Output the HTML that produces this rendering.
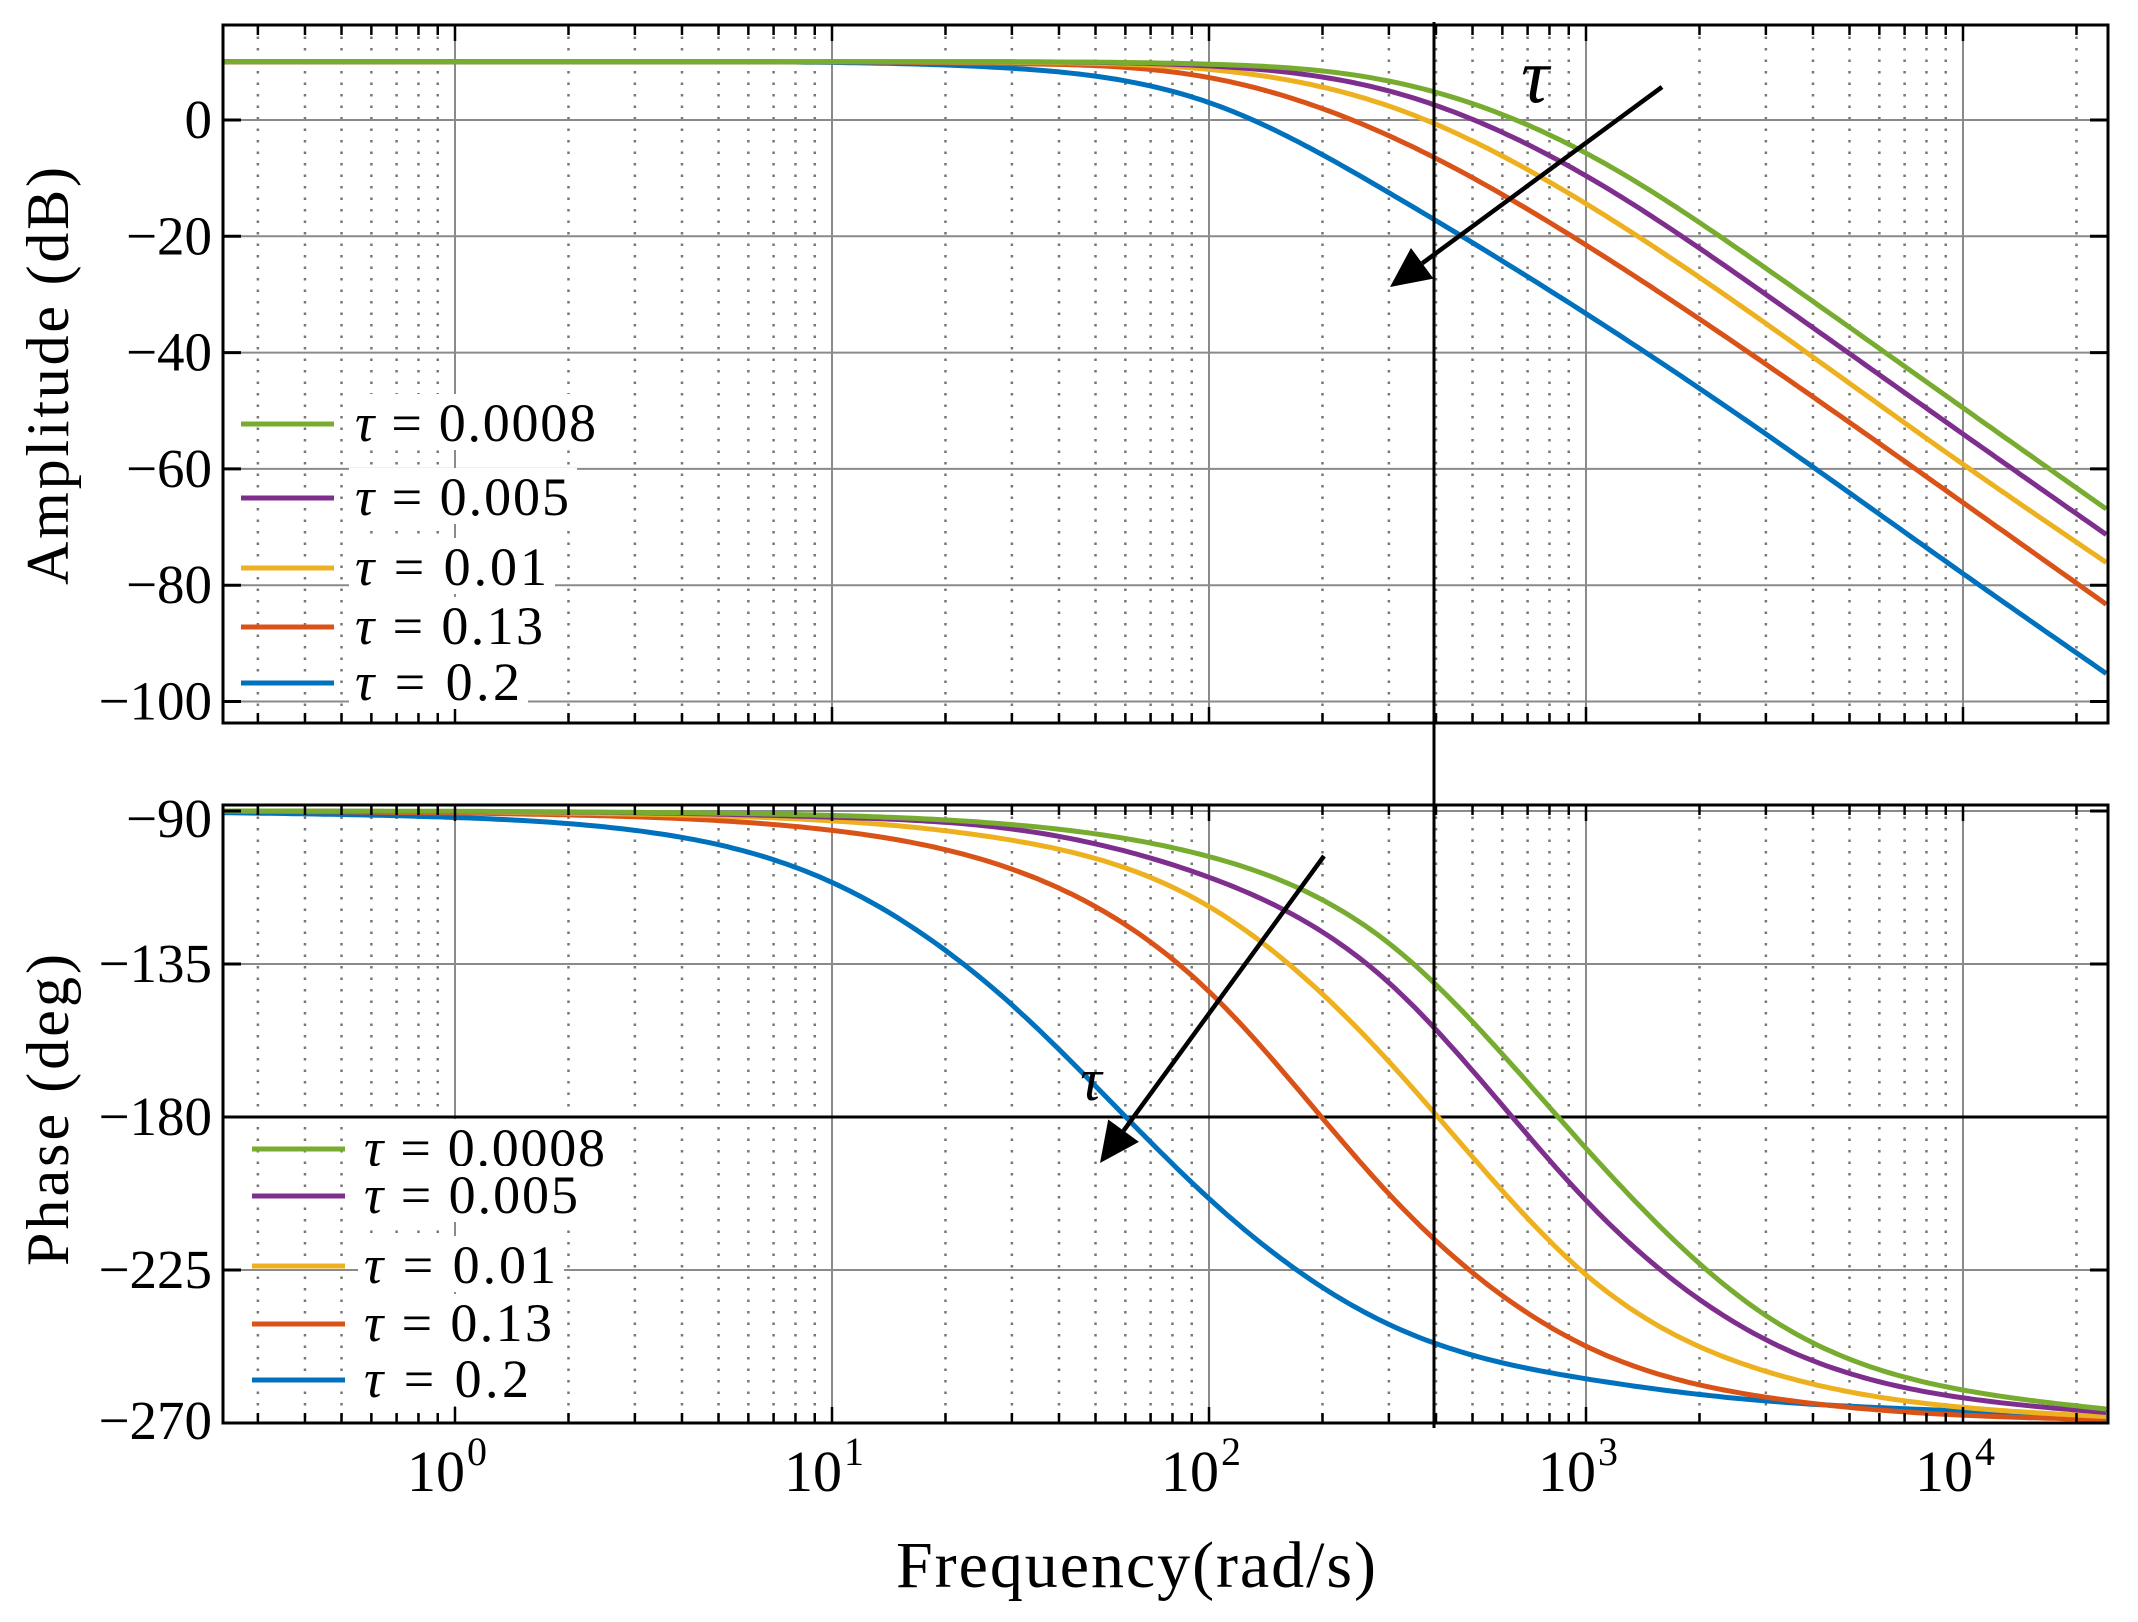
<!DOCTYPE html>
<html><head><meta charset="utf-8"><style>
html,body{margin:0;padding:0;background:#fff;}
svg{display:block;}
text{font-family:"Liberation Serif",serif;fill:#000;}
</style></head><body>
<svg id="chart" width="2138" height="1622" viewBox="0 0 2138 1622" xmlns="http://www.w3.org/2000/svg">
<g id="grid"></g><g id="series"></g><g id="frame"></g><g id="labels"></g><g id="legend"></g><g id="annot"></g>
</svg>
<script>
// ---- data ----
const seriesNames = ["τ = 0.0008","τ = 0.005","τ = 0.01","τ = 0.13","τ = 0.2"];
const seriesColors = ["#77AC30","#7E2F8E","#EDB120","#D95319","#0072BD"];
const ampFreq = [0.243,1,10,30,100,300,1000,3000,10000,24000];
const ampGreen  = [10,10,10,10,9.6,6.7,-5.7,-25.5,-49.5,-66.9];
const ampPurple = [10,10,10,10,9.3,5.0,-9.6,-30,-54,-71.3];
const ampYellow = [10,10,10,9.9,8.7,2.4,-14.4,-35,-59.2,-76.1];
const ampRed    = [10,10,10,9.7,7.3,-2.7,-21.5,-42,-65.8,-83.3];
const ampBlue   = [10,10,9.9,8.9,3.0,-12.5,-33.3,-54,-78,-95.2];
const phFreq = [0.243,1,3,10,30,100,300,1000,3000,10000,24000];
const phGreen  = [-90,-90.1,-90.4,-91.3,-94.0,-103.4,-128.9,-189.2,-238.4,-260.3,-265.9];
const phPurple = [-90,-90.2,-90.5,-91.8,-95.3,-109.5,-140.5,-204.5,-245.5,-262.6,-266.9];
const phYellow = [-90,-90.3,-90.9,-92.9,-98.6,-118.1,-163.7,-226.4,-254.8,-265.4,-268.1];
const phRed    = [-90,-90.6,-91.7,-95.7,-107.1,-143.1,-202.6,-247.4,-262.4,-267.7,-269.0];
const phBlue   = [-90.5,-91.9,-95.7,-111,-147,-204,-241,-257,-263.5,-266.5,-268.5];
const ampTicks = [0,-20,-40,-60,-80,-100];
const ampTickLabels = ["0","−20","−40","−60","−80","−100"];
const phTicks = [-90,-135,-180,-225,-270];
const phTickLabels = ["−90","−135","−180","−225","−270"];
const xDecades = [0,1,2,3,4];

const ampSeries=[ampGreen,ampPurple,ampYellow,ampRed,ampBlue];
const phSeries=[phGreen,phPurple,phYellow,phRed,phBlue];
const NS="http://www.w3.org/2000/svg";
const XL=223, XR=2108, D0=455, DEC=377;
const xMin=Math.pow(10,(XL-D0)/DEC), xMax=Math.pow(10,(XR-D0)/DEC);
function xs(f){return D0+Math.log10(f)*DEC;}
const A={top:25,bot:723}; function ya(v){return 120-v*5.815;}
const P={top:805,bot:1423}; function yp(v){return 811+(-90-v)*153/45;}
function el(tag,attrs,parent){const e=document.createElementNS(NS,tag);for(const k in attrs)e.setAttribute(k,attrs[k]);parent.appendChild(e);return e;}
const G=document.getElementById('grid'),S=document.getElementById('series'),F=document.getElementById('frame'),L=document.getElementById('labels'),LG=document.getElementById('legend'),AN=document.getElementById('annot');

// grid
[A,P].forEach((ax,pi)=>{
  for(let d=-1;d<=4;d++){for(let m=1;m<10;m++){const f=m*Math.pow(10,d);if(f<xMin||f>xMax)continue;const x=xs(f);
    if(m===1){const g=el('line',{x1:x,x2:x,y1:ax.top,y2:ax.bot,stroke:'#8a8a8a','stroke-width':2},G);
      }
    else{const g=el('line',{x1:x,x2:x,y1:ax.top,y2:ax.bot,stroke:'#777','stroke-width':2.5,'stroke-dasharray':'2.5 9'},G);
      }
    const tl=m===1?16:10;
    el('line',{x1:x,x2:x,y1:ax.bot,y2:ax.bot-tl,stroke:'#000','stroke-width':2.5},F);
    el('line',{x1:x,x2:x,y1:ax.top,y2:ax.top+tl,stroke:'#000','stroke-width':2.5},F);
  }}
  const ticks=pi===0?ampTicks:phTicks, lab=pi===0?ampTickLabels:phTickLabels, yf=pi===0?ya:yp;
  ticks.forEach((t,i)=>{const y=yf(t);
    const isBlack=(pi===1&&t===-180);
    const g=el('line',{x1:XL,x2:XR,y1:y,y2:y,stroke:isBlack?'#000':'#8a8a8a','stroke-width':isBlack?3:2},G);
    
    el('line',{x1:XL,x2:XL+18,y1:y,y2:y,stroke:'#000','stroke-width':3},F);
    el('line',{x1:XR,x2:XR-18,y1:y,y2:y,stroke:'#000','stroke-width':3},F);
    let ty=y+18; if(pi===1&&i===0)ty=y+26; if(pi===1&&i===ticks.length-1)ty=y+16;
    const tx=el('text',{x:212,y:ty,'text-anchor':'end','font-size':55},L);tx.textContent=lab[i];
    
  });
  const r=el('rect',{x:XL,y:ax.top,width:XR-XL,height:ax.bot-ax.top,fill:'none',stroke:'#000','stroke-width':3},F);
  
});

// natural cubic spline in log-x, clamped to data range
function curve(xsArr,ys,yf){
  const x=xsArr.map(Math.log10),n=x.length,h=[],al=[],l=[1],mu=[0],z=[0],c=new Array(n).fill(0),b=[],d=[];
  for(let i=0;i<n-1;i++)h.push(x[i+1]-x[i]);
  for(let i=1;i<n-1;i++)al[i]=3/h[i]*(ys[i+1]-ys[i])-3/h[i-1]*(ys[i]-ys[i-1]);
  for(let i=1;i<n-1;i++){l[i]=2*(x[i+1]-x[i-1])-h[i-1]*mu[i-1];mu[i]=h[i]/l[i];z[i]=(al[i]-h[i-1]*z[i-1])/l[i];}
  for(let j=n-2;j>=0;j--){c[j]=(j===0?0:z[j]-mu[j]*c[j+1]);b[j]=(ys[j+1]-ys[j])/h[j]-h[j]*(c[j+1]+2*c[j])/3;d[j]=(c[j+1]-c[j])/(3*h[j]);}
  const lo=Math.min(...ys),hi=Math.max(...ys);
  let pts=[];
  for(let i=0;i<n-1;i++){for(let k=0;k<30;k++){const t=k/30*h[i];
    let v=ys[i]+b[i]*t+c[i]*t*t+d[i]*t*t*t; v=Math.max(lo,Math.min(hi,v));
    pts.push([D0+(x[i]+t)*DEC,yf(v)]);}}
  pts.push([xs(xsArr[n-1]),yf(ys[n-1])]);
  return 'M'+pts.map(p=>p[0].toFixed(1)+','+p[1].toFixed(1)).join('L');
}
for(let i=4;i>=0;i--){
  const pa=el('path',{d:curve(ampFreq,ampSeries[i],ya),fill:'none',stroke:seriesColors[i],'stroke-width':5},S);
  
  const pp=el('path',{d:curve(phFreq,phSeries[i],yp),fill:'none',stroke:seriesColors[i],'stroke-width':5},S);
  
}

// x tick labels
xDecades.forEach(dk=>{const x=xs(Math.pow(10,dk));
  const t=el('text',{x:x-8,y:1491,'text-anchor':'middle','font-size':58},L);
  
  t.textContent='10';const s=el('tspan',{'font-size':40,dy:-26,dx:2},t);s.textContent=String(dk);
});
const xt=el('text',{x:1136,y:1587,'text-anchor':'middle','font-size':66,textLength:480},L);xt.textContent='Frequency(rad/s)';

const at=el('text',{x:0,y:0,'text-anchor':'middle','font-size':60,transform:'translate(68,376) rotate(-90)',textLength:418},L);at.textContent='Amplitude (dB)';

const pt=el('text',{x:0,y:0,'text-anchor':'middle','font-size':60,transform:'translate(68,1110) rotate(-90)',textLength:312},L);pt.textContent='Phase (deg)';


// legends
const legLens=[241,214,192,188,165];
function legend(x1,x2,tx,rows,tag){
  rows.forEach((y,i)=>{
    el('rect',{x:tx-6,y:y-30,width:legLens[i]+14,height:56,fill:'#fff'},LG);
    const ln=el('line',{x1:x1,x2:x2,y1:y,y2:y,stroke:seriesColors[i],'stroke-width':5},LG);
    
    const t=el('text',{x:tx,y:y+17,'font-size':54,textLength:legLens[i],lengthAdjust:'spacing'},LG);
    
    const ti=el('tspan',{'font-style':'italic'},t);ti.textContent='τ';
    const tr=el('tspan',{},t);tr.textContent=' = '+seriesNames[i].split('= ')[1];
  });
}
legend(241,334,355,[424,498,568,627,683],'amplitude');
legend(252,345,364,[1149,1196,1266,1324,1380],'phase');

// annotations
const vl=el('line',{x1:1434,x2:1434,y1:22,y2:1428,stroke:'#000','stroke-width':3},AN);

function arrow(x1,y1,x2,y2,tag){
  const a=Math.atan2(y2-y1,x2-x1),L2=40,W=19;
  const bx=x2-L2*Math.cos(a),by=y2-L2*Math.sin(a);
  const l=el('line',{x1:x1,y1:y1,x2:bx,y2:by,stroke:'#000','stroke-width':4.5},AN);
  
  el('polygon',{points:`${x2},${y2} ${bx+W*Math.sin(a)},${by-W*Math.cos(a)} ${bx-W*Math.sin(a)},${by+W*Math.cos(a)}`,fill:'#000'},AN);
}
arrow(1662,87,1390,287,'amplitude-tau-arrow');
arrow(1324,856,1100,1163,'phase-tau-arrow');
const t1=el('text',{x:1535,y:102,'text-anchor':'middle','font-size':78,'font-style':'italic'},AN);t1.textContent='τ';

const t2=el('text',{x:1091,y:1100,'text-anchor':'middle','font-size':60,'font-style':'italic'},AN);t2.textContent='τ';

</script>
</body></html>
